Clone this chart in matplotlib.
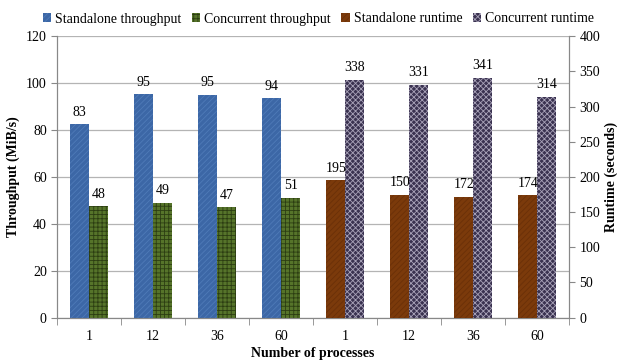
import numpy as np
import matplotlib.pyplot as plt

plt.rcParams['font.family'] = ['Liberation Serif', 'DejaVu Serif']
plt.rcParams['hatch.linewidth'] = 0.6

procs = ['1', '12', '36', '60', '1', '12', '36', '60']
standalone_tp = [82.5, 95.3, 95.0, 93.5]
standalone_tp_lbl = ['83', '95', '95', '94']
concurrent_tp = [47.5, 49.0, 47.0, 51.2]
concurrent_tp_lbl = ['48', '49', '47', '51']
standalone_rt = [195, 175, 172, 174]
standalone_rt_lbl = ['195', '150', '172', '174']
concurrent_rt = [338, 331, 341, 314]
concurrent_rt_lbl = ['338', '331', '341', '314']

fig = plt.figure(figsize=(6.22, 3.63), dpi=100)
ax = fig.add_axes([0.092, 0.125, 0.823, 0.775])
ax2 = ax.twinx()

w = 0.295
x_tp = np.arange(4)
x_rt = np.arange(4, 8)

c_blue, c_green, c_brown, c_purple = '#3c67a6', '#56742a', '#7b3a0b', '#3a3250'

b1 = ax.bar(x_tp - w / 2, standalone_tp, w, color=c_blue, edgecolor='#4f7bb8',
            hatch='//////', linewidth=0, zorder=3)
b2 = ax.bar(x_tp + w / 2, concurrent_tp, w, color=c_green, edgecolor='#2c3d12',
            hatch='++++', linewidth=0, zorder=3)
b3 = ax2.bar(x_rt - w / 2, standalone_rt, w, color=c_brown, edgecolor='#6a3008',
             hatch='//////', linewidth=0, zorder=3)
b4 = ax2.bar(x_rt + w / 2, concurrent_rt, w, color=c_purple, edgecolor='#a8a2b8',
             hatch='xxxxxx', linewidth=0, zorder=3)

for bars, lbls, a in [(b1, standalone_tp_lbl, ax), (b2, concurrent_tp_lbl, ax),
                      (b3, standalone_rt_lbl, ax2), (b4, concurrent_rt_lbl, ax2)]:
    for b, t in zip(bars, lbls):
        a.annotate(t, (b.get_x() + b.get_width() / 2, b.get_height()),
                   xytext=(0, 4), textcoords='offset points',
                   ha='center', va='bottom', fontsize=10)

ax.set_ylim(0, 120)
ax.set_yticks(range(0, 121, 20))
ax2.set_ylim(0, 400)
ax2.set_yticks(range(0, 401, 50))
ax.set_xlim(-0.5, 7.5)
ax.set_xticks(range(8))
ax.set_xticklabels(procs)
ax.set_xticks(np.arange(-0.5, 8, 1), minor=True)
ax.tick_params(axis='x', which='major', length=0, labelsize=10, pad=9)
ax.tick_params(axis='x', which='minor', length=5, color='#888888')
ax.tick_params(axis='y', length=4, color='#888888', labelsize=10)
ax2.tick_params(axis='y', length=4, color='#888888', labelsize=10)

ax.yaxis.grid(True, color='#b4b4b4', linewidth=0.9, zorder=0)
ax.set_axisbelow(True)
for a in (ax, ax2):
    a.spines['top'].set_visible(False)
    for s in ('left', 'right', 'bottom'):
        a.spines[s].set_color('#888888')

ax.set_ylabel('Throughput (MiB/s)', fontsize=10, fontweight='bold')
ax2.set_ylabel('Runtime (seconds)', fontsize=10, fontweight='bold', labelpad=3)
ax.set_xlabel('Number of processes', fontsize=10, fontweight='bold', labelpad=3)

handles = [b1, b2, b3, b4]
names = ['Standalone throughput', 'Concurrent throughput',
         'Standalone runtime', 'Concurrent runtime']
fig.legend(handles, names, loc='upper center', bbox_to_anchor=(0.512, 1.0), ncol=4,
           frameon=False, fontsize=10, handlelength=0.6, handleheight=0.6,
           handletextpad=0.3, columnspacing=0.75)

fig.savefig('out.png', dpi=100)
